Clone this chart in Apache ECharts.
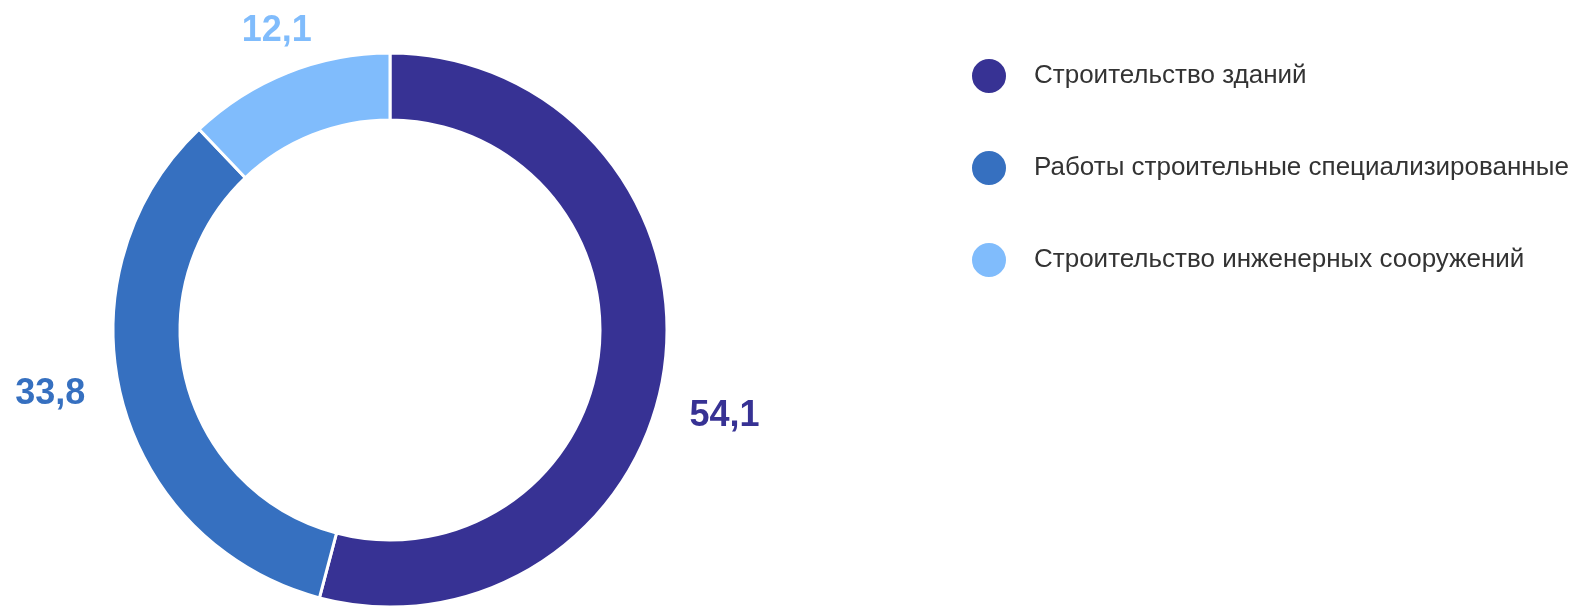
<!DOCTYPE html>
<html>
<head>
<meta charset="utf-8">
<script src="https://cdn.jsdelivr.net/npm/echarts@6/dist/echarts.min.js"></script>
<style>html,body{margin:0;padding:0;background:#fff}#c{width:1578px;height:606px}</style>
</head>
<body>
<div id="c"></div>
<script>
const categories = ['Строительство зданий', 'Работы строительные специализированные', 'Строительство инженерных сооружений'];
const values = [54.1, 33.8, 12.1];
const colors = ['#373294', '#3670c0', '#80bcfc'];
// label nudges relative to ECharts' outside label position
const labelShift = [[-20, 48], [8, -10], [57, -23]];

const chart = echarts.init(document.getElementById('c'), null, {renderer: 'canvas'});
chart.setOption({
  animation: false,
  color: colors,
  legend: {
    orient: 'vertical',
    left: 965,
    top: 52,
    icon: 'circle',
    itemWidth: 36,
    itemHeight: 36,
    itemGap: 54,
    data: categories,
    textStyle: {fontFamily: 'Liberation Sans, Arial, sans-serif', fontSize: 26, color: '#333', padding: [4, 0, 0, 22]}
  },
  series: [{
    type: 'pie',
    center: [390, 330],
    radius: [210, 277],
    startAngle: 90,
    clockwise: true,
    avoidLabelOverlap: false,
    itemStyle: {borderColor: '#fff', borderWidth: 3},
    label: {
      show: true,
      position: 'outside',
      formatter: p => String(p.value).replace('.', ','),
      fontFamily: 'Liberation Sans, Arial, sans-serif',
      fontSize: 36,
      fontWeight: 'bold'
    },
    labelLine: {show: false, length: 20, length2: 20},
    labelLayout: p => ({dx: labelShift[p.dataIndex][0], dy: labelShift[p.dataIndex][1]}),
    emphasis: {disabled: true},
    data: categories.map((n, i) => ({name: n, value: values[i], label: {color: colors[i]}}))
  }]
});
</script>
</body>
</html>
